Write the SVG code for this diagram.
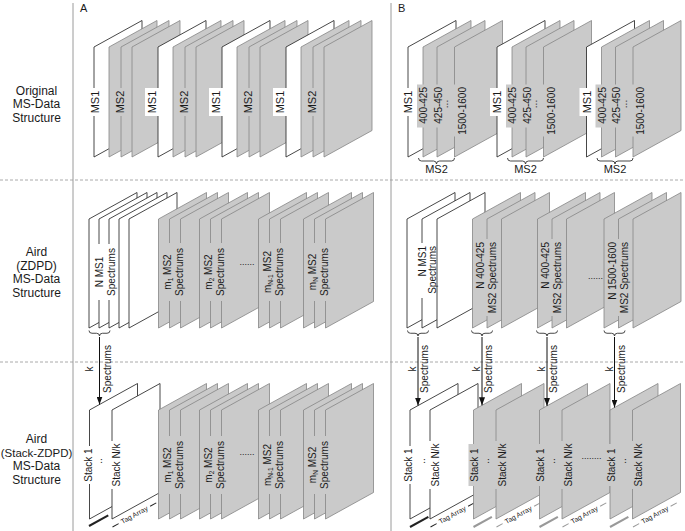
<svg xmlns="http://www.w3.org/2000/svg" width="685" height="531" viewBox="0 0 685 531">
<style>
.w{fill:#fff;stroke:#333;stroke-width:.9;stroke-linejoin:round}
.g{fill:#cacaca;stroke:#858585;stroke-width:.8;stroke-linejoin:round}
.t{font-family:"Liberation Sans",Arial,Helvetica,sans-serif;fill:#1a1a1a}
.lab{font-size:12px;text-anchor:middle}
.p11{font-size:11px}
.p10{font-size:10px}
.m{text-anchor:middle}
.e{text-anchor:end}
.bw{fill:#fff}
.bg{fill:#cacaca}
.br{fill:none;stroke:#333;stroke-width:.9}
.div{stroke:#9a9a9a;stroke-width:1}
.dash{stroke:#aaa;stroke-width:1;stroke-dasharray:3 2}
.arr{stroke:#111;stroke-width:1;fill:none}
.thk{stroke:#222;stroke-width:2}
.thkg{stroke:#999;stroke-width:2}
.dl{stroke:#222;stroke-width:1}
.dlg{stroke:#999;stroke-width:1}
.tag{font-size:7px;text-anchor:middle}
</style>
<defs>
<polygon id="r1" points="0,47 48,20.5 48,130.5 0,157"/>
<polygon id="r2" points="0,219 48,192.5 48,301.5 0,328"/>
<polygon id="r3" points="0,410 48,383.5 48,492.5 0,519"/>
<marker id="ah" markerUnits="userSpaceOnUse" markerWidth="8" markerHeight="6" refX="8" refY="3" orient="auto"><path d="M0,0 L8,3 L0,6 z" fill="#111"/></marker>
</defs>

<g id="frame">
<line class="dash" x1="0" y1="180" x2="685" y2="180"/>
<line class="dash" x1="0" y1="362" x2="685" y2="362"/>
<line class="div" x1="73" y1="3" x2="73" y2="531"/>
<line class="div" x1="391" y1="3" x2="391" y2="531"/>
<text class="t" x="80" y="12" font-size="11">A</text>
<text class="t" x="398" y="12" font-size="11">B</text>
</g>

<g id="label-original" class="t lab">
<text x="36.5" y="95">Original</text>
<text x="36.5" y="108.3">MS-Data</text>
<text x="36.5" y="121.6">Structure</text>
</g>
<g id="label-zdpd" class="t lab">
<text x="36.5" y="256">Aird</text>
<text x="36.5" y="269.5">(ZDPD)</text>
<text x="36.5" y="283">MS-Data</text>
<text x="36.5" y="296.5">Structure</text>
</g>
<g id="label-stack" class="t lab">
<text x="36.5" y="443">Aird</text>
<text x="36.5" y="456.5" font-size="11.5">(Stack-ZDPD)</text>
<text x="36.5" y="470">MS-Data</text>
<text x="36.5" y="483.5">Structure</text>
</g>

<!-- Row 1 A -->
<g id="a1-g1">
<use href="#r1" x="94" class="w"/><use href="#r1" x="109" class="g"/><use href="#r1" x="121" class="g"/><use href="#r1" x="132" class="g"/>
<rect class="bw" x="88.5" y="88" width="13" height="28"/>
<text class="t p11 m" transform="translate(95,102) rotate(-90)" dy="0.35em">MS1</text>
<rect class="bg" x="114" y="88" width="12" height="28"/>
<text class="t p11 m" transform="translate(120,102) rotate(-90)" dy="0.35em">MS2</text>
</g>
<g id="a1-g2">
<use href="#r1" x="158" class="w"/><use href="#r1" x="173" class="g"/><use href="#r1" x="185" class="g"/><use href="#r1" x="196" class="g"/>
<rect class="bw" x="145" y="88" width="14" height="28"/>
<text class="t p11 m" transform="translate(152,102) rotate(-90)" dy="0.35em">MS1</text>
<rect class="bg" x="178" y="88" width="12" height="28"/>
<text class="t p11 m" transform="translate(184,102) rotate(-90)" dy="0.35em">MS2</text>
</g>
<g id="a1-g3">
<use href="#r1" x="222" class="w"/><use href="#r1" x="237" class="g"/><use href="#r1" x="249" class="g"/><use href="#r1" x="260" class="g"/>
<rect class="bw" x="209" y="88" width="14" height="28"/>
<text class="t p11 m" transform="translate(216,102) rotate(-90)" dy="0.35em">MS1</text>
<rect class="bg" x="242" y="88" width="12" height="28"/>
<text class="t p11 m" transform="translate(248,102) rotate(-90)" dy="0.35em">MS2</text>
</g>
<g id="a1-g4">
<use href="#r1" x="286" class="w"/><use href="#r1" x="301" class="g"/><use href="#r1" x="313" class="g"/><use href="#r1" x="324" class="g"/>
<rect class="bw" x="273" y="88" width="14" height="28"/>
<text class="t p11 m" transform="translate(280,102) rotate(-90)" dy="0.35em">MS1</text>
<rect class="bg" x="306" y="88" width="12" height="28"/>
<text class="t p11 m" transform="translate(312,102) rotate(-90)" dy="0.35em">MS2</text>
</g>

<!-- Row 1 B -->
<g id="b1-g1">
<use href="#r1" x="408" class="w"/><use href="#r1" x="423" class="g"/><use href="#r1" x="437" class="g"/><use href="#r1" x="454.5" class="g"/>
<rect class="bw" x="401" y="88" width="15" height="28"/>
<text class="t p11 m" transform="translate(408.5,102) rotate(-90)" dy="0.35em">MS1</text>
<rect class="bg" x="417" y="84.5" width="11.5" height="43"/>
<text class="t p10 e" transform="translate(423.5,87) rotate(-90)" dy="0.35em">400-425</text>
<rect class="bg" x="432.5" y="84.5" width="11" height="43"/>
<text class="t p10 e" transform="translate(438,87) rotate(-90)" dy="0.35em">425-450</text>
<text class="t p10 m" transform="translate(447,104) rotate(-90)" dy="0.1em">...</text>
<rect class="bg" x="452.5" y="84.5" width="15" height="52"/>
<text class="t p10 e" transform="translate(462,87) rotate(-90)" dy="0.35em">1500-1600</text>
<path class="br" d="M418.5,158 q0,3 3,3 H433.5 q3,0 3,3 q0,-3 3,-3 H451.5 q3,0 3,-3"/>
<text class="t p11 m" x="436.5" y="173">MS2</text>
</g>
<g id="b1-g2">
<use href="#r1" x="497" class="w"/><use href="#r1" x="512" class="g"/><use href="#r1" x="526" class="g"/><use href="#r1" x="543.5" class="g"/>
<rect class="bw" x="490" y="88" width="15" height="28"/>
<text class="t p11 m" transform="translate(497.5,102) rotate(-90)" dy="0.35em">MS1</text>
<rect class="bg" x="506" y="84.5" width="11.5" height="43"/>
<text class="t p10 e" transform="translate(512.5,87) rotate(-90)" dy="0.35em">400-425</text>
<rect class="bg" x="521.5" y="84.5" width="11" height="43"/>
<text class="t p10 e" transform="translate(527,87) rotate(-90)" dy="0.35em">425-450</text>
<text class="t p10 m" transform="translate(536,104) rotate(-90)" dy="0.1em">...</text>
<rect class="bg" x="541.5" y="84.5" width="15" height="52"/>
<text class="t p10 e" transform="translate(551,87) rotate(-90)" dy="0.35em">1500-1600</text>
<path class="br" d="M507.5,158 q0,3 3,3 H522.5 q3,0 3,3 q0,-3 3,-3 H540.5 q3,0 3,-3"/>
<text class="t p11 m" x="525.5" y="173">MS2</text>
</g>
<g id="b1-g3">
<use href="#r1" x="586.5" class="w"/><use href="#r1" x="601.5" class="g"/><use href="#r1" x="615.5" class="g"/><use href="#r1" x="633" class="g"/>
<rect class="bw" x="579.5" y="88" width="15" height="28"/>
<text class="t p11 m" transform="translate(587,102) rotate(-90)" dy="0.35em">MS1</text>
<rect class="bg" x="595.5" y="84.5" width="11.5" height="43"/>
<text class="t p10 e" transform="translate(602,87) rotate(-90)" dy="0.35em">400-425</text>
<rect class="bg" x="611" y="84.5" width="11" height="43"/>
<text class="t p10 e" transform="translate(616.5,87) rotate(-90)" dy="0.35em">425-450</text>
<text class="t p10 m" transform="translate(625.5,104) rotate(-90)" dy="0.1em">...</text>
<rect class="bg" x="631" y="84.5" width="15" height="52"/>
<text class="t p10 e" transform="translate(640.5,87) rotate(-90)" dy="0.35em">1500-1600</text>
<path class="br" d="M597,158 q0,3 3,3 H612 q3,0 3,3 q0,-3 3,-3 H630 q3,0 3,-3"/>
<text class="t p11 m" x="615" y="173">MS2</text>
</g>

<!-- Row 2 A -->
<g id="a2-ms1">
<use href="#r2" x="89" class="w"/><use href="#r2" x="99" class="w"/><use href="#r2" x="109" class="w"/><use href="#r2" x="119" class="w"/><use href="#r2" x="129" class="w"/>
<rect class="bw" x="93" y="244" width="23.5" height="56"/>
<text class="t p10 m" transform="translate(99.5,272) rotate(-90)" dy="0.35em">N MS1</text>
<text class="t p10 m" transform="translate(111.5,272) rotate(-90)" dy="0.35em">Spectrums</text>
<path class="br" d="M89,330.5 q0,2.75 3,2.75 H96.5 q3,0 3,2.75 q0,-2.75 3,-2.75 H107 q3,0 3,-2.75"/>
</g>
<g id="a2-m1">
<use href="#r2" x="158.5" class="g"/><use href="#r2" x="169.5" class="g"/><use href="#r2" x="180.5" class="g"/>
<rect class="bg" x="162" y="243" width="23" height="58"/>
<text class="t p10 m" transform="translate(167.5,272) rotate(-90)" dy="0.35em">m<tspan font-size="6.5" dy="2">1</tspan><tspan dy="-2"> MS2</tspan></text>
<text class="t p10 m" transform="translate(179.5,272) rotate(-90)" dy="0.35em">Spectrums</text>
</g>
<g id="a2-m2">
<use href="#r2" x="199.5" class="g"/><use href="#r2" x="210.5" class="g"/><use href="#r2" x="221.5" class="g"/>
<rect class="bg" x="203" y="243" width="23" height="58"/>
<text class="t p10 m" transform="translate(208.5,272) rotate(-90)" dy="0.35em">m<tspan font-size="6.5" dy="2">2</tspan><tspan dy="-2"> MS2</tspan></text>
<text class="t p10 m" transform="translate(220.5,272) rotate(-90)" dy="0.35em">Spectrums</text>
<text class="t m" x="247" y="265" font-size="9">......</text>
</g>
<g id="a2-mn1">
<use href="#r2" x="258.5" class="g"/><use href="#r2" x="269.5" class="g"/><use href="#r2" x="280.5" class="g"/>
<rect class="bg" x="262" y="243" width="23" height="58"/>
<text class="t p10 m" transform="translate(267.5,272) rotate(-90)" dy="0.35em">m<tspan font-size="6.5" dy="2">N-1</tspan><tspan dy="-2"> MS2</tspan></text>
<text class="t p10 m" transform="translate(279.5,272) rotate(-90)" dy="0.35em">Spectrums</text>
</g>
<g id="a2-mn">
<use href="#r2" x="303.5" class="g"/><use href="#r2" x="314.5" class="g"/><use href="#r2" x="325.5" class="g"/>
<rect class="bg" x="307" y="243" width="23" height="58"/>
<text class="t p10 m" transform="translate(312.5,272) rotate(-90)" dy="0.35em">m<tspan font-size="6.5" dy="2">N</tspan><tspan dy="-2"> MS2</tspan></text>
<text class="t p10 m" transform="translate(324.5,272) rotate(-90)" dy="0.35em">Spectrums</text>
</g>

<!-- Row 2 B -->
<g id="b2-ms1">
<use href="#r2" x="407" class="w"/><use href="#r2" x="422" class="w"/><use href="#r2" x="437" class="w"/>
<rect class="bw" x="416.5" y="243" width="19.5" height="55"/>
<text class="t p10 e" transform="translate(422,246) rotate(-90)" dy="0.35em">N MS1</text>
<text class="t p10 e" transform="translate(432,246) rotate(-90)" dy="0.35em">Spectrums</text>
<path class="br" d="M407.5,330.5 q0,2.75 3,2.75 H415 q3,0 3,2.75 q0,-2.75 3,-2.75 H425.5 q3,0 3,-2.75"/>
</g>
<g id="b2-r1">
<use href="#r2" x="472.5" class="g"/><use href="#r2" x="487" class="g"/><use href="#r2" x="501.5" class="g"/>
<rect class="bg" x="475" y="239" width="21.5" height="77"/>
<text class="t p10 e" transform="translate(480.5,242) rotate(-90)" dy="0.35em">N 400-425</text>
<text class="t p10 e" transform="translate(492.5,242) rotate(-90)" dy="0.35em">MS2 Spectrums</text>
<path class="br" d="M471.5,330.5 q0,2.75 3,2.75 H479 q3,0 3,2.75 q0,-2.75 3,-2.75 H489.5 q3,0 3,-2.75"/>
</g>
<g id="b2-r2">
<use href="#r2" x="537.5" class="g"/><use href="#r2" x="552" class="g"/><use href="#r2" x="566.5" class="g"/>
<rect class="bg" x="540" y="239" width="21.5" height="77"/>
<text class="t p10 e" transform="translate(545.5,242) rotate(-90)" dy="0.35em">N 400-425</text>
<text class="t p10 e" transform="translate(557.5,242) rotate(-90)" dy="0.35em">MS2 Spectrums</text>
<path class="br" d="M536.5,330.5 q0,2.75 3,2.75 H544 q3,0 3,2.75 q0,-2.75 3,-2.75 H554.5 q3,0 3,-2.75"/>
<text class="t m" x="595.5" y="279" font-size="9">......</text>
</g>
<g id="b2-r3">
<use href="#r2" x="604" class="g"/><use href="#r2" x="618.5" class="g"/><use href="#r2" x="633" class="g"/>
<rect class="bg" x="606.5" y="239" width="21.5" height="77"/>
<text class="t p10 e" transform="translate(612,242) rotate(-90)" dy="0.35em">N 1500-1600</text>
<text class="t p10 e" transform="translate(624,242) rotate(-90)" dy="0.35em">MS2 Spectrums</text>
<path class="br" d="M604,330.5 q0,2.75 3,2.75 H611.5 q3,0 3,2.75 q0,-2.75 3,-2.75 H622 q3,0 3,-2.75"/>
</g>

<!-- Row 3 A -->
<g id="a3-stack">
<use href="#r3" x="89.5" class="w"/><use href="#r3" x="112" class="w"/>
<rect class="bw" x="82.5" y="446" width="11" height="38"/>
<text class="t p10 m" transform="translate(88,465) rotate(-90)" dy="0.35em">Stack 1</text>
<text class="t p10 m" transform="translate(100.5,461) rotate(-90)" dy="0.1em">..</text>
<rect class="bw" x="110" y="441" width="11.5" height="48"/>
<text class="t p10 m" transform="translate(116,465) rotate(-90)" dy="0.35em">Stack N/k</text>
<line class="thk" transform="translate(89,526) rotate(-28.9)" x1="0" y1="0" x2="22" y2="0"/>
<g transform="translate(112.5,527) rotate(-28.9)"><line class="dl" x1="0" y1="0" x2="7" y2="0"/><text class="t tag" x="25" y="2.4">Tag Array</text><line class="dl" x1="43" y1="0" x2="50" y2="0"/></g>
</g>
<g id="a3-m1">
<use href="#r3" x="158.5" class="g"/><use href="#r3" x="169.5" class="g"/><use href="#r3" x="180.5" class="g"/>
<rect class="bg" x="162" y="436" width="23" height="58"/>
<text class="t p10 m" transform="translate(167.5,465) rotate(-90)" dy="0.35em">m<tspan font-size="6.5" dy="2">1</tspan><tspan dy="-2"> MS2</tspan></text>
<text class="t p10 m" transform="translate(179.5,465) rotate(-90)" dy="0.35em">Spectrums</text>
</g>
<g id="a3-m2">
<use href="#r3" x="199.5" class="g"/><use href="#r3" x="210.5" class="g"/><use href="#r3" x="221.5" class="g"/>
<rect class="bg" x="203" y="436" width="23" height="58"/>
<text class="t p10 m" transform="translate(208.5,465) rotate(-90)" dy="0.35em">m<tspan font-size="6.5" dy="2">2</tspan><tspan dy="-2"> MS2</tspan></text>
<text class="t p10 m" transform="translate(220.5,465) rotate(-90)" dy="0.35em">Spectrums</text>
<text class="t m" x="247" y="455" font-size="9">......</text>
</g>
<g id="a3-mn1">
<use href="#r3" x="258.5" class="g"/><use href="#r3" x="269.5" class="g"/><use href="#r3" x="280.5" class="g"/>
<rect class="bg" x="262" y="436" width="23" height="58"/>
<text class="t p10 m" transform="translate(267.5,465) rotate(-90)" dy="0.35em">m<tspan font-size="6.5" dy="2">N-1</tspan><tspan dy="-2"> MS2</tspan></text>
<text class="t p10 m" transform="translate(279.5,465) rotate(-90)" dy="0.35em">Spectrums</text>
</g>
<g id="a3-mn">
<use href="#r3" x="303.5" class="g"/><use href="#r3" x="314.5" class="g"/><use href="#r3" x="325.5" class="g"/>
<rect class="bg" x="307" y="436" width="23" height="58"/>
<text class="t p10 m" transform="translate(312.5,465) rotate(-90)" dy="0.35em">m<tspan font-size="6.5" dy="2">N</tspan><tspan dy="-2"> MS2</tspan></text>
<text class="t p10 m" transform="translate(324.5,465) rotate(-90)" dy="0.35em">Spectrums</text>
</g>

<!-- Row 3 B -->
<g id="b3-stack-ms1">
<use href="#r3" x="410" class="w"/><use href="#r3" x="430" class="w"/>
<rect class="bw" x="403" y="446" width="11" height="38"/>
<text class="t p10 m" transform="translate(408.5,465) rotate(-90)" dy="0.35em">Stack 1</text>
<text class="t p10 m" transform="translate(423.5,461) rotate(-90)" dy="0.1em">..</text>
<rect class="bw" x="428.5" y="441" width="12" height="48"/>
<text class="t p10 m" transform="translate(435,465) rotate(-90)" dy="0.35em">Stack N/k</text>
<line class="thk" transform="translate(410,527) rotate(-28.9)" x1="0" y1="0" x2="21" y2="0"/>
<g transform="translate(430.5,527) rotate(-28.9)"><line class="dl" x1="0" y1="0" x2="7" y2="0"/><text class="t tag" x="25" y="2.4">Tag Array</text><line class="dl" x1="43" y1="0" x2="50" y2="0"/></g>
</g>
<g id="b3-stack-r1">
<use href="#r3" x="473.5" class="g"/><use href="#r3" x="496" class="g"/>
<rect class="bg" x="468.5" y="444" width="11.5" height="42"/>
<text class="t p10 m" transform="translate(474.5,465) rotate(-90)" dy="0.35em">Stack 1</text>
<text class="t p10 m" transform="translate(488,461) rotate(-90)" dy="0.1em">..</text>
<rect class="bg" x="495" y="441" width="12" height="48"/>
<text class="t p10 m" transform="translate(502,465) rotate(-90)" dy="0.35em">Stack N/k</text>
<line class="thkg" transform="translate(473.5,527) rotate(-28.9)" x1="0" y1="0" x2="21" y2="0"/>
<g transform="translate(496.5,527) rotate(-28.9)"><line class="dlg" x1="0" y1="0" x2="7" y2="0"/><text class="t tag" x="25" y="2.4">Tag Array</text><line class="dlg" x1="43" y1="0" x2="50" y2="0"/></g>
</g>
<g id="b3-stack-r2">
<use href="#r3" x="539.5" class="g"/><use href="#r3" x="562" class="g"/>
<rect class="bg" x="534.5" y="444" width="11.5" height="42"/>
<text class="t p10 m" transform="translate(540.5,465) rotate(-90)" dy="0.35em">Stack 1</text>
<text class="t p10 m" transform="translate(554,461) rotate(-90)" dy="0.1em">..</text>
<rect class="bg" x="561" y="441" width="12" height="48"/>
<text class="t p10 m" transform="translate(568,465) rotate(-90)" dy="0.35em">Stack N/k</text>
<line class="thkg" transform="translate(539.5,527) rotate(-28.9)" x1="0" y1="0" x2="21" y2="0"/>
<g transform="translate(562.5,527) rotate(-28.9)"><line class="dlg" x1="0" y1="0" x2="7" y2="0"/><text class="t tag" x="25" y="2.4">Tag Array</text><line class="dlg" x1="43" y1="0" x2="50" y2="0"/></g>
<text class="t m" x="591.5" y="459" font-size="9">........</text>
</g>
<g id="b3-stack-r3">
<use href="#r3" x="610" class="g"/><use href="#r3" x="632.5" class="g"/>
<rect class="bg" x="605" y="444" width="11.5" height="42"/>
<text class="t p10 m" transform="translate(611,465) rotate(-90)" dy="0.35em">Stack 1</text>
<text class="t p10 m" transform="translate(624.5,461) rotate(-90)" dy="0.1em">..</text>
<rect class="bg" x="631.5" y="441" width="12" height="48"/>
<text class="t p10 m" transform="translate(638.5,465) rotate(-90)" dy="0.35em">Stack N/k</text>
<line class="thkg" transform="translate(610,527) rotate(-28.9)" x1="0" y1="0" x2="21" y2="0"/>
<g transform="translate(633,527) rotate(-28.9)"><line class="dlg" x1="0" y1="0" x2="7" y2="0"/><text class="t tag" x="25" y="2.4">Tag Array</text><line class="dlg" x1="43" y1="0" x2="50" y2="0"/></g>
</g>

<!-- Connectors -->
<g id="connectors">
<line class="arr" x1="99.5" y1="337" x2="99.5" y2="404.5" marker-end="url(#ah)"/>
<line class="arr" x1="418" y1="337" x2="418" y2="405.6" marker-end="url(#ah)"/>
<line class="arr" x1="482" y1="337" x2="482" y2="405.3" marker-end="url(#ah)"/>
<line class="arr" x1="547" y1="337" x2="547" y2="405.9" marker-end="url(#ah)"/>
<line class="arr" x1="614.5" y1="337" x2="614.5" y2="407.5" marker-end="url(#ah)"/>
<text class="t p10 m" transform="translate(89.5,369) rotate(-90)" dy="0.35em">k</text>
<text class="t p10 m" transform="translate(107.5,369) rotate(-90)" dy="0.35em">Spectrums</text>
<text class="t p10 m" transform="translate(412.5,369) rotate(-90)" dy="0.35em">k</text>
<text class="t p10 m" transform="translate(424.5,369) rotate(-90)" dy="0.35em">Spectrums</text>
<text class="t p10 m" transform="translate(476.5,369) rotate(-90)" dy="0.35em">k</text>
<text class="t p10 m" transform="translate(488.5,369) rotate(-90)" dy="0.35em">Spectrums</text>
<text class="t p10 m" transform="translate(541.5,369) rotate(-90)" dy="0.35em">k</text>
<text class="t p10 m" transform="translate(553.5,369) rotate(-90)" dy="0.35em">Spectrums</text>
<text class="t p10 m" transform="translate(609,369) rotate(-90)" dy="0.35em">k</text>
<text class="t p10 m" transform="translate(621,369) rotate(-90)" dy="0.35em">Spectrums</text>
</g>
</svg>
